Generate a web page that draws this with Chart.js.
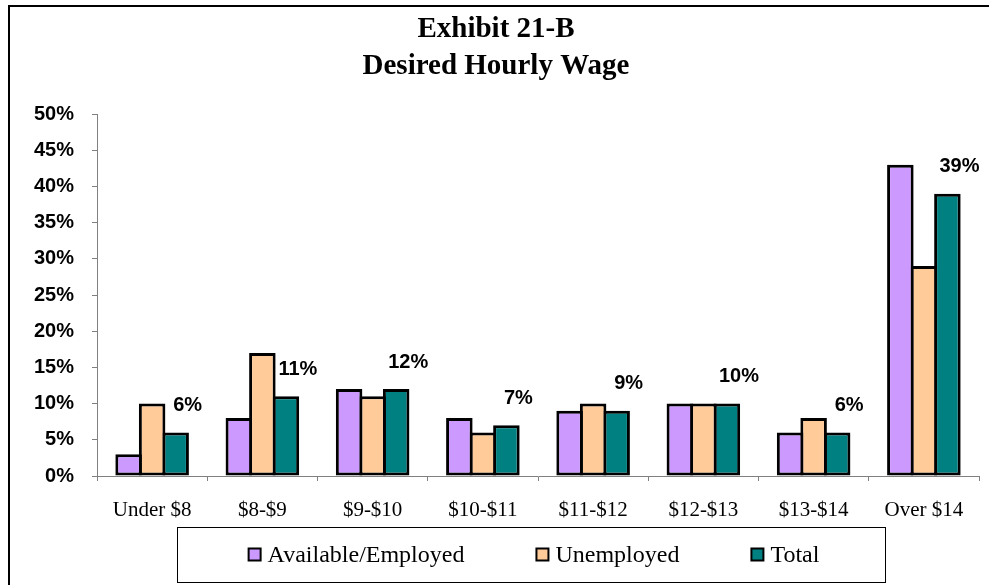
<!DOCTYPE html>
<html>
<head>
<meta charset="utf-8">
<script src="https://cdn.jsdelivr.net/npm/chart.js@4.4.1/dist/chart.umd.min.js"></script>
<style>
  html, body { margin: 0; padding: 0; background: #fff; }
  #wrap { width: 989px; height: 585px; }
</style>
</head>
<body>
<div id="wrap"><canvas id="c" width="989" height="585"></canvas></div>
<script>
const titleLines = ['Exhibit 21-B', 'Desired Hourly Wage'];
const categories = ['Under $8', '$8-$9', '$9-$10', '$10-$11', '$11-$12', '$12-$13', '$13-$14', 'Over $14'];
const seriesNames = ['Available/Employed', 'Unemployed', 'Total'];
const availableEmployed = [3, 8, 12, 8, 9, 10, 6, 43];
const unemployed = [10, 17, 11, 6, 10, 10, 8, 29];
const total = [6, 11, 12, 7, 9, 10, 6, 39];
const yTicksMin = 0, yTicksMax = 50, yTicksStep = 5;

const colors = ['#CC99FF', '#FFCC99', '#008080'];
const SERIF = '"Liberation Serif", "Times New Roman", serif';
const SANS = '"Liberation Sans", Arial, sans-serif';

const framePlugin = {
  id: 'frame',
  beforeDraw(chart) {
    const ctx = chart.ctx;
    ctx.save();
    ctx.fillStyle = '#fff';
    ctx.fillRect(0, 0, chart.width, chart.height);
    ctx.restore();
  },
  afterDraw(chart) {
    const ctx = chart.ctx;
    ctx.save();
    // outer frame (left and top edges visible)
    ctx.strokeStyle = '#000';
    ctx.lineWidth = 2;
    ctx.beginPath();
    ctx.moveTo(9, chart.height + 5);
    ctx.lineTo(9, 6);
    ctx.lineTo(chart.width + 5, 6);
    ctx.stroke();
    // title
    ctx.fillStyle = '#000';
    ctx.textAlign = 'center';
    ctx.textBaseline = 'alphabetic';
    ctx.font = 'bold 29px ' + SERIF;
    ctx.fillText(titleLines[0], 496, 37);
    ctx.fillText(titleLines[1], 496, 74);
    // legend
    const bx = 177, by = 527, bw = 708, bh = 55;
    ctx.lineWidth = 1;
    ctx.strokeRect(bx + 0.5, by + 0.5, bw, bh);
    ctx.font = '24px ' + SERIF;
    const mk = 12, mgap = 7, igap = 72;
    const ds = chart.data.datasets;
    const widths = ds.map(d => mk + mgap + ctx.measureText(d.label).width);
    const totalW = widths.reduce((a, b) => a + b, 0) + igap * (ds.length - 1);
    let x = bx + bw / 2 - totalW / 2 + 3;
    const cy = by + bh / 2;
    ds.forEach((d, i) => {
      ctx.fillStyle = d.backgroundColor;
      ctx.fillRect(x, cy - mk / 2, mk, mk);
      ctx.lineWidth = 2;
      ctx.strokeStyle = '#000';
      ctx.strokeRect(x, cy - mk / 2, mk, mk);
      ctx.fillStyle = '#000';
      ctx.textAlign = 'left';
      ctx.textBaseline = 'middle';
      ctx.fillText(d.label, x + mk + mgap, cy + 1);
      x += widths[i] + igap;
    });
    ctx.restore();
  }
};

const labelPlugin = {
  id: 'totalLabels',
  afterDatasetsDraw(chart) {
    const ctx = chart.ctx;
    const meta = chart.getDatasetMeta(2);
    ctx.save();
    ctx.font = 'bold 20px ' + SANS;
    ctx.fillStyle = '#000';
    ctx.textAlign = 'center';
    ctx.textBaseline = 'middle';
    meta.data.forEach((el, i) => {
      ctx.fillText(chart.data.datasets[2].data[i] + '%', el.x + 12, el.y - 27);
    });
    ctx.restore();
  }
};

new Chart(document.getElementById('c'), {
  type: 'bar',
  data: {
    labels: categories,
    datasets: [
      { label: seriesNames[0], data: availableEmployed, backgroundColor: colors[0] },
      { label: seriesNames[1], data: unemployed, backgroundColor: colors[1] },
      { label: seriesNames[2], data: total, backgroundColor: colors[2] }
    ].map(d => Object.assign(d, {
      borderColor: '#000', borderWidth: 3, borderSkipped: false,
      categoryPercentage: 0.64, barPercentage: 1.128
    }))
  },
  options: {
    responsive: false,
    animation: false,
    devicePixelRatio: 1,
    layout: { padding: { top: 114, right: 10, bottom: 0, left: 0 } },
    plugins: {
      legend: { display: false },
      title: { display: false },
      tooltip: { enabled: false }
    },
    scales: {
      x: {
        offset: true,
        grid: { drawOnChartArea: false, drawTicks: true, tickLength: 5, color: '#808080', offset: true },
        border: { color: '#808080', width: 1 },
        ticks: { color: '#000', font: { family: SERIF, size: 21 }, padding: 17, maxRotation: 0, autoSkip: false },
        afterFit(s) { s.height = 109; }
      },
      y: {
        min: yTicksMin,
        max: yTicksMax,
        grid: { drawOnChartArea: false, drawTicks: true, tickLength: 5, color: '#808080' },
        border: { color: '#808080', width: 1 },
        ticks: {
          stepSize: yTicksStep,
          color: '#000',
          font: { family: SANS, size: 20, weight: 'bold' },
          padding: 18,
          callback: v => v + '%'
        },
        afterFit(s) { s.width = 97; }
      }
    }
  },
  plugins: [framePlugin, labelPlugin]
});
</script>
</body>
</html>
